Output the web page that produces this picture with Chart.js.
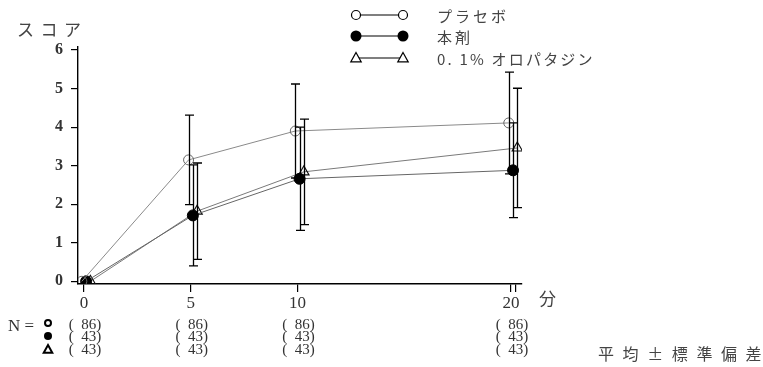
<!DOCTYPE html>
<html><head><meta charset="utf-8">
<script src="https://cdn.jsdelivr.net/npm/chart.js@4"></script>
<style>html,body{margin:0;padding:0;background:#fff;}#wrap{width:763px;height:367px;}</style>
</head><body><div id="wrap"><canvas id="c" width="763" height="367"></canvas></div>
<script>
// ---- data ----
const minutes = [0, 5, 10, 20];
const xTickValues = [0, 5, 10, 20, 20.2];
const xTickLabels = ['0', '5', '10', '20', ''];
const yTickValues = [0, 1, 2, 3, 4, 5, 6];
const seriesNames = ['プラセボ', '本剤', '0. 1% オロパタジン'];
const placeboMean = [0, 3.15, 3.90, 4.11];
const placeboSD   = [0, 1.16, 1.22, 1.32];
const drugMean    = [0, 1.71, 2.66, 2.88];
const drugSD      = [0, 1.31, 1.34, 1.23];
const oloMean     = [0, 1.82, 2.84, 3.46];
const oloSD       = [0, 1.25, 1.37, 1.55];
const placeboN = [86, 86, 86, 86];
const drugN    = [43, 43, 43, 43];
const oloN     = [43, 43, 43, 43];
const yTitle = 'スコア';
const xTitle = '分';
const note = '平均±標準偏差';

// small horizontal dodge so the three groups don't overlap (in minutes)
const dodge = [-0.1, 0.1, 0.3];
const mk = (means, off) => minutes.map((m, i) => ({x: m + off, y: means[i]}));

const datasets = [
  {label: seriesNames[0], data: mk(placeboMean, dodge[0]), sd: placeboSD, n: placeboN,
   borderColor: '#8a8a8a', borderWidth: 1, pointStyle: 'circle', pointRadius: 5,
   pointBorderColor: '#666', pointBackgroundColor: 'rgba(255,255,255,0)', pointBorderWidth: 1},
  {label: seriesNames[1], data: mk(drugMean, dodge[1]), sd: drugSD, n: drugN,
   borderColor: '#666', borderWidth: 1, pointStyle: 'circle', pointRadius: 5.5,
   pointBorderColor: '#000', pointBackgroundColor: '#000', pointBorderWidth: 1},
  {label: seriesNames[2], data: mk(oloMean, dodge[2]), sd: oloSD, n: oloN,
   borderColor: '#7a7a7a', borderWidth: 1, pointStyle: 'triangle', pointRadius: 6,
   pointBorderColor: '#111', pointBackgroundColor: 'rgba(255,255,255,0)', pointBorderWidth: 1.1}
];

function drawMarker(ctx, kind, x, y, r, lw) {
  ctx.save();
  ctx.lineWidth = lw;
  ctx.strokeStyle = '#000';
  ctx.beginPath();
  if (kind === 'open') {
    ctx.arc(x, y, r, 0, Math.PI * 2); ctx.fillStyle = '#fff'; ctx.fill(); ctx.stroke();
  } else if (kind === 'filled') {
    ctx.arc(x, y, r, 0, Math.PI * 2); ctx.fillStyle = '#000'; ctx.fill();
  } else {
    ctx.moveTo(x, y - r); ctx.lineTo(x + r * 0.95, y + r * 0.7); ctx.lineTo(x - r * 0.95, y + r * 0.7); ctx.closePath();
    ctx.fillStyle = '#fff'; ctx.fill(); ctx.stroke();
  }
  ctx.restore();
}

function spaced(ctx, text, x, y, gap) {
  let cx = x;
  for (const ch of text) {
    ctx.fillText(ch, cx, y);
    cx += ctx.measureText(ch).width + gap;
  }
}

const errorBars = {
  id: 'errorBars',
  afterDatasetsDraw(chart) {
    const ctx = chart.ctx, xs = chart.scales.x, ys = chart.scales.y;
    ctx.save();
    ctx.strokeStyle = '#000';
    ctx.lineWidth = 1.3;
    chart.data.datasets.forEach(ds => {
      ds.data.forEach((p, i) => {
        const sd = ds.sd[i];
        if (!sd) return;
        const px = Math.round(xs.getPixelForValue(p.x)) + 0.5;
        const top = ys.getPixelForValue(p.y + sd), bot = ys.getPixelForValue(p.y - sd);
        ctx.beginPath();
        ctx.moveTo(px, top); ctx.lineTo(px, bot);
        ctx.moveTo(px - 4.5, top); ctx.lineTo(px + 4.5, top);
        ctx.moveTo(px - 4.5, bot); ctx.lineTo(px + 4.5, bot);
        ctx.stroke();
      });
    });
    ctx.restore();
  }
};

const annotations = {
  id: 'annotations',
  afterDraw(chart) {
    const ctx = chart.ctx, xs = chart.scales.x;
    ctx.save();
    // y title
    ctx.fillStyle = '#444';
    ctx.textBaseline = 'middle';
    ctx.textAlign = 'left';
    ctx.font = '17px "Noto Sans CJK JP"';
    spaced(ctx, yTitle, 17, 30, 6.5);
    // x title
    ctx.font = '17px "Noto Sans CJK JP"';
    ctx.fillText(xTitle, 539, 299);
    // note
    ctx.font = '16px "Noto Sans CJK JP"';
    spaced(ctx, note, 598, 354, 8.6);

    // legend
    const kinds = ['open', 'filled', 'tri'];
    const rowsY = [15, 36, 58];
    kinds.forEach((k, i) => {
      const y = rowsY[i];
      ctx.strokeStyle = '#000'; ctx.lineWidth = 1.2;
      ctx.beginPath(); ctx.moveTo(356, y); ctx.lineTo(403, y); ctx.stroke();
      const r = k === 'filled' ? 5.5 : (k === 'open' ? 4.5 : 5.5);
      drawMarker(ctx, k, 356, y, r, 1.2);
      drawMarker(ctx, k, 403, y, r, 1.2);
      ctx.fillStyle = '#444';
      ctx.font = '15px "Noto Sans CJK JP"';
      ctx.textAlign = 'left';
      spaced(ctx, seriesNames[i], 437, y + 1, i === 2 ? 2.2 : 3);
    });

    // N table
    ctx.fillStyle = '#333';
    ctx.font = '17px "Liberation Serif"';
    ctx.textAlign = 'left';
    ctx.fillText('N =', 8, 327);
    ctx.font = '15px "Liberation Serif"';
    const nRows = [325, 337.5, 350];
    drawMarker(ctx, 'open', 48, 323, 3, 2);
    drawMarker(ctx, 'filled', 48, 336, 4, 1);
    drawMarker(ctx, 'tri', 48, 349.5, 4.5, 2);
    ctx.textAlign = 'center';
    chart.data.datasets.forEach((ds, r) => {
      minutes.forEach((m, i) => {
        const cx = xs.getPixelForValue(m) + 1;
        ctx.fillText('(  ' + ds.n[i] + ')', cx, nRows[r]);
      });
    });
    ctx.restore();
  }
};

new Chart(document.getElementById('c'), {
  type: 'scatter',
  data: {datasets: datasets.map(d => Object.assign({showLine: true, fill: false, tension: 0}, d))},
  options: {
    responsive: false, animation: false, devicePixelRatio: 1,
    layout: {padding: {left: 0, top: 47, right: 241, bottom: 0}},
    plugins: {legend: {display: false}, tooltip: {enabled: false}},
    scales: {
      x: {
        type: 'linear', min: -0.28, max: 20.52,
        afterBuildTicks: s => { s.ticks = xTickValues.map(v => ({value: v})); },
        afterFit: s => { s.height = 83; },
        grid: {drawOnChartArea: false, drawTicks: true, tickLength: 8, color: '#000', lineWidth: 1.2},
        border: {display: true, color: '#000', width: 1.4},
        ticks: {padding: 1, color: '#333', maxRotation: 0, autoSkip: false,
          font: {family: 'Liberation Serif', size: 17},
          callback: (v) => { const i = xTickValues.indexOf(v); return i >= 0 ? xTickLabels[i] : ''; }}
      },
      y: {
        min: -0.07, max: 6.08,
        afterBuildTicks: s => { s.ticks = yTickValues.map(v => ({value: v})); },
        afterFit: s => { s.width = 78; },
        grid: {drawOnChartArea: false, drawTicks: true, tickLength: 7, color: '#000', lineWidth: 1.2},
        border: {display: true, color: '#000', width: 1.4},
        ticks: {padding: 8, color: '#333', font: {family: 'Liberation Serif', size: 16, weight: 'bold'}}
      }
    }
  },
  plugins: [errorBars, annotations]
});
</script>
</body></html>
